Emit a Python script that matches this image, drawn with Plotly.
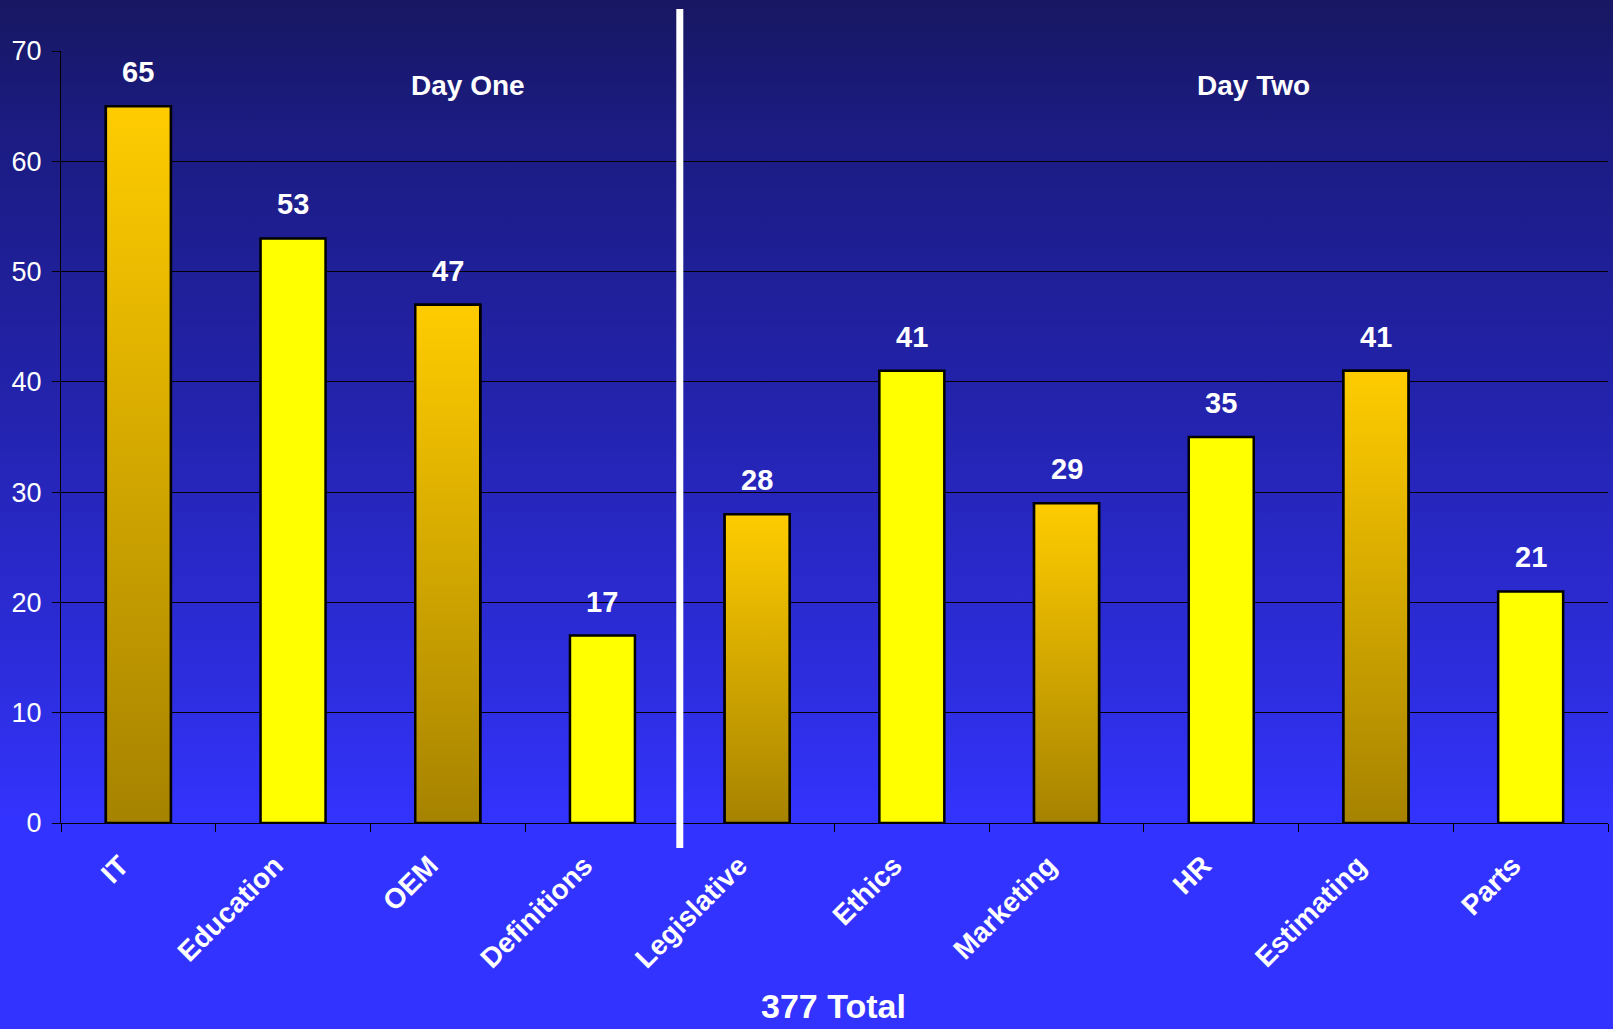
import base64
import plotly.graph_objects as go

# ---- data ----
categories = ["IT", "Education", "OEM", "Definitions", "Legislative",
              "Ethics", "Marketing", "HR", "Estimating", "Parts"]
values = [65, 53, 47, 17, 28, 41, 29, 35, 41, 21]
day_one = ["IT", "Education", "OEM", "Definitions"]
day_two = ["Legislative", "Ethics", "Marketing", "HR", "Estimating", "Parts"]
total_label = "377 Total"

# ---- layout constants ----
W, H = 1613, 1029
ML, MR, MT, MB = 61, 5, 51, 206
PW, PH = W - ML - MR, H - MT - MB
FONT = "Liberation Sans, Arial, sans-serif"
BAR_W = 0.42
GOLD_SCALE = [[0, "#a68300"], [1, "#ffcc00"]]

# background gradient as an SVG image
svg = f'''<svg xmlns="http://www.w3.org/2000/svg" width="{W}" height="{H}" viewBox="0 0 {W} {H}" preserveAspectRatio="none">
<defs><linearGradient id="g" x1="0" y1="0" x2="0" y2="1">
<stop offset="0" stop-color="#171762"/>
<stop offset="0.12" stop-color="#1b1b80"/>
<stop offset="0.40" stop-color="#2323ae"/>
<stop offset="0.68" stop-color="#2e2ee2"/>
<stop offset="0.80" stop-color="#3333ff"/>
<stop offset="1" stop-color="#3333ff"/>
</linearGradient></defs>
<rect x="0" y="0" width="{W}" height="{H}" fill="url(#g)"/></svg>'''
bg_src = "data:image/svg+xml;base64," + base64.b64encode(svg.encode()).decode()

fig = go.Figure()

bar_colors = ["#d4a800" if i % 2 == 0 else "#ffff00" for i in range(len(categories))]
fig.add_trace(go.Bar(
    x=categories, y=values, width=BAR_W,
    marker=dict(color=bar_colors, line=dict(color="black", width=2.5)),
    hoverinfo="x+y", showlegend=False,
))

# gradient overlays for the gold bars
for i, (c, v) in enumerate(zip(categories, values)):
    if i % 2 == 0:
        x0, x1 = i - BAR_W / 2, i + BAR_W / 2
        fig.add_trace(go.Scatter(
            x=[x0, x1, x1, x0, x0], y=[0, 0, v, v, 0],
            mode="lines", fill="toself",
            fillgradient=dict(type="vertical", colorscale=GOLD_SCALE),
            line=dict(color="black", width=2.5),
            hoverinfo="skip", showlegend=False, xaxis="x2",
        ))

# value labels
for c, v in zip(categories, values):
    fig.add_annotation(x=c, y=v, text=f"<b>{v}</b>", showarrow=False,
                       xanchor="center", yanchor="middle", yshift=34,
                       font=dict(family=FONT, size=29, color="white"))

def px_x(px):
    return (px - ML) / PW

def px_y(py):
    return (H - MB - py) / PH

split = len(day_one) / len(categories)
fig.add_annotation(x=px_x(468), y=px_y(85), xref="paper", yref="paper",
                   xanchor="center", yanchor="middle", text="<b>Day One</b>",
                   showarrow=False, font=dict(family=FONT, size=28, color="white"))
fig.add_annotation(x=px_x(1253), y=px_y(85), xref="paper", yref="paper",
                   xanchor="center", yanchor="middle", text="<b>Day Two</b>",
                   showarrow=False, font=dict(family=FONT, size=28, color="white"))
fig.add_annotation(x=px_x(833), y=px_y(1006), xref="paper", yref="paper",
                   xanchor="center", yanchor="middle",
                   text=f"<b>{total_label}</b>", showarrow=False,
                   font=dict(family=FONT, size=34, color="white"))

# separator line between the two days
fig.add_shape(type="line", xref="paper", yref="paper",
              x0=split, x1=split, y0=px_y(848), y1=px_y(9),
              line=dict(color="white", width=7), layer="above")

fig.add_layout_image(dict(source=bg_src, xref="paper", yref="paper",
                          x=px_x(0), y=px_y(0), sizex=W / PW, sizey=H / PH,
                          xanchor="left", yanchor="top", sizing="stretch",
                          layer="below"))

fig.update_layout(
    width=W, height=H,
    margin=dict(l=ML, r=MR, t=MT, b=MB, pad=0),
    paper_bgcolor="#3333ff", plot_bgcolor="rgba(0,0,0,0)",
    bargap=1 - BAR_W, showlegend=False,
    xaxis=dict(type="category", categoryorder="array", categoryarray=categories,
               range=[-0.5, len(categories) - 0.5],
               showline=True, linecolor="black", linewidth=1,
               ticks="outside", tickson="boundaries", ticklen=8, tickcolor="black",
               showgrid=False, zeroline=False, tickangle=-45,
               ticklabelstandoff=14, ticklabelshift=-18,
               tickfont=dict(family=FONT, size=28, color="white", weight="bold")),
    xaxis2=dict(overlaying="x", range=[-0.5, len(categories) - 0.5], visible=False),
    yaxis=dict(range=[0, 70], dtick=10, showline=True, linecolor="black", linewidth=1,
               ticks="outside", ticklen=8, tickcolor="black", ticklabelstandoff=5,
               showgrid=True, gridcolor="black", gridwidth=1, zeroline=False,
               tickfont=dict(family=FONT, size=27, color="white")),
)

fig.write_html("out.html")
